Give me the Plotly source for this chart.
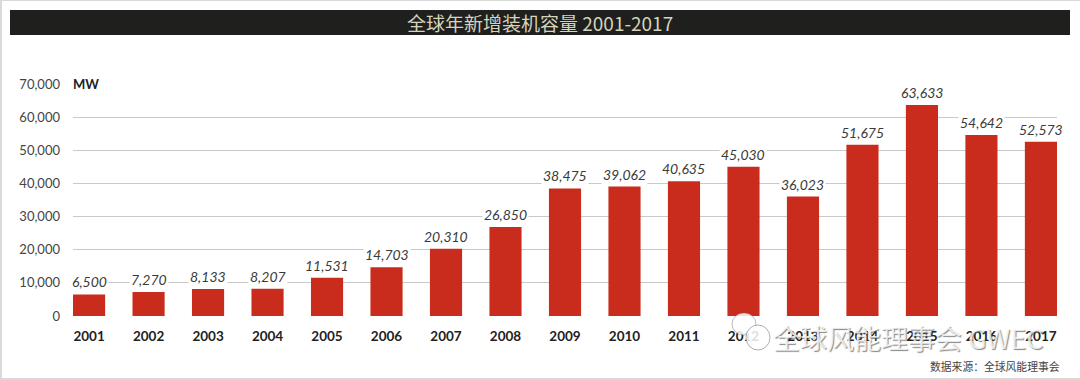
import plotly.graph_objects as go

years = ["2001","2002","2003","2004","2005","2006","2007","2008","2009","2010","2011","2012","2013","2014","2015","2016","2017"]
added_mw = [6500,7270,8133,8207,11531,14703,20310,26850,38475,39062,40635,45030,36023,51675,63633,54642,52573]
y_ticks = [0,10000,20000,30000,40000,50000,60000,70000]
y_tick_labels = ["0","10,000","20,000","30,000","40,000","50,000","60,000","70,000"]
title_text = "全球年新增装机容量 2001-2017"
source_text = "数据来源：全球风能理事会"
watermark_text = "全球风能理事会 GWEC"

W, H = 1080, 380
px = lambda v: v / W
py = lambda v: 1 - v / H
CJK = "Noto Sans CJK SC"
LATIN = "Lato"

fig = go.Figure(go.Bar(x=years, y=added_mw, marker=dict(color="#c92c1c", line=dict(width=0)), width=0.54, hoverinfo="x+y"))

shapes = [
    dict(type="rect", xref="paper", yref="paper", x0=px(10), x1=px(1070), y0=py(35), y1=py(10), fillcolor="#1f1f1d", line_width=0),
    dict(type="rect", xref="paper", yref="paper", x0=0, x1=px(2), y0=0, y1=1, fillcolor="#d9d9d9", line_width=0),
    dict(type="rect", xref="paper", yref="paper", x0=0, x1=1, y0=py(380), y1=py(378), fillcolor="#d9d9d9", line_width=0),
    dict(type="rect", xref="paper", yref="paper", x0=0, x1=1, y0=py(1), y1=1, fillcolor="#d9d9d9", line_width=0),
    dict(type="circle", xref="paper", yref="paper", x0=px(732), x1=px(756), y0=py(335), y1=py(313), fillcolor="rgba(255,255,255,0.85)", line=dict(color="rgba(120,120,120,0.5)", width=1)),
    dict(type="circle", xref="paper", yref="paper", x0=px(746), x1=px(770), y0=py(350), y1=py(325), fillcolor="rgba(255,255,255,0.85)", line=dict(color="rgba(120,120,120,0.6)", width=1)),
]

annotations = [
    dict(x=i, y=v, xref="x", yref="y", text=f"{v:,}", showarrow=False, yanchor="bottom", yshift=2, bgcolor="white",
         borderpad=1, font=dict(family=LATIN, size=14, color="#3a3a3a", style="italic"))
    for i, v in enumerate(added_mw)
]
annotations += [
    dict(xref="paper", yref="paper", x=px(540), y=py(22.5), xanchor="center", yanchor="middle", text=title_text, showarrow=False,
         font=dict(family=CJK, size=19, color="#d4d4bc")),
    dict(xref="paper", yref="paper", x=px(71), y=py(84), xanchor="left", yanchor="middle", text="<b>MW</b>", showarrow=False, bgcolor="white",
         borderpad=1, font=dict(family=LATIN, size=13, color="#222222")),
    dict(xref="paper", yref="paper", x=px(1062), y=py(366), xanchor="right", yanchor="middle", text=source_text, showarrow=False,
         font=dict(family=CJK, size=10.8, color="#444444")),
    dict(xref="paper", yref="paper", x=px(1045), y=py(337), xanchor="right", yanchor="middle", text=watermark_text, showarrow=False,
         font=dict(family=CJK, size=27, color="rgba(255,255,255,0.8)", shadow="1px 1px 1px rgba(90,90,90,0.9)")),
]

fig.update_layout(
    width=W, height=H, margin=dict(l=0, r=0, t=0, b=0), showlegend=False,
    paper_bgcolor="white", plot_bgcolor="white", shapes=shapes, annotations=annotations,
    xaxis=dict(domain=[px(73), px(1057)], type="category", range=[-0.27, 16.27], showgrid=False, zeroline=False, automargin=False,
               showline=False, ticks="", ticklabelstandoff=10,
               tickfont=dict(family=LATIN, size=13.5, color="#222222", weight=700)),
    yaxis=dict(domain=[py(316), py(84)], range=[0, 70000], tickvals=y_ticks, ticktext=y_tick_labels, automargin=False,
               gridcolor="#c9c9c9", gridwidth=1, zeroline=False, showline=False, ticks="", ticklabelstandoff=12,
               tickfont=dict(family=LATIN, size=13, color="#444444")),
)

fig.write_html("out.html", config=dict(displayModeBar=False), post_script="document.body.style.margin='0';document.documentElement.style.overflow='hidden';")
